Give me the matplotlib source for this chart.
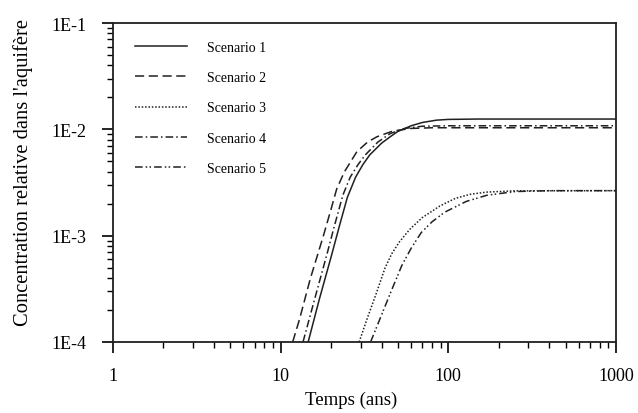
import matplotlib
matplotlib.use("Agg")
import matplotlib.pyplot as plt
from matplotlib.ticker import FixedLocator, LogLocator, NullFormatter

# values (time in years, relative concentration)
t1 = [14.6, 17, 20, 22.5, 25, 28, 31, 34, 40, 45, 50, 60, 70, 85, 100, 150, 1000]
c1 = [1.0e-4, 2.51e-4, 6.31e-4, 1.26e-3, 2.29e-3, 3.55e-3, 4.68e-3, 5.75e-3,
      7.41e-3, 8.51e-3, 9.55e-3, 1.08e-2, 1.16e-2, 1.22e-2, 1.24e-2, 1.25e-2, 1.25e-2]

t2 = [11.8, 13, 15, 18, 20, 21.6, 24, 28.5, 33, 37.5, 46.7, 60, 80, 1000]
c2 = [1.0e-4, 1.66e-4, 3.89e-4, 1.0e-3, 1.78e-3, 2.75e-3, 3.98e-3, 6.17e-3,
      7.59e-3, 8.51e-3, 9.64e-3, 1.02e-2, 1.035e-2, 1.035e-2]

t3 = [29.4, 33, 37, 42, 46, 51, 59, 70, 89, 110, 135, 170, 250, 1000]
c3 = [1.0e-4, 1.7e-4, 2.8e-4, 5.0e-4, 6.76e-4, 8.7e-4, 1.15e-3, 1.48e-3, 1.9e-3,
      2.24e-3, 2.45e-3, 2.57e-3, 2.64e-3, 2.65e-3]

t4 = [13.6, 16, 19, 21, 23.5, 26, 29, 32, 38, 45, 55, 70, 100, 1000]
c4 = [1.0e-4, 2.57e-4, 6.92e-4, 1.26e-3, 2.40e-3, 3.55e-3, 4.68e-3, 5.75e-3,
      7.59e-3, 9.12e-3, 1.02e-2, 1.07e-2, 1.08e-2, 1.08e-2]

t5 = [34.4, 40, 46, 52.7, 60, 69, 80, 95, 128, 170, 250, 400, 1000]
c5 = [1.0e-4, 1.8e-4, 3.1e-4, 5.2e-4, 7.6e-4, 1.07e-3, 1.35e-3, 1.66e-3,
      2.1e-3, 2.4e-3, 2.6e-3, 2.65e-3, 2.65e-3]

labels = ["Scenario 1", "Scenario 2", "Scenario 3", "Scenario 4", "Scenario 5"]
xticks = [1, 10, 100, 1000]
xticklabels = ["1", "10", "100", "1000"]
yticks = [1e-4, 1e-3, 1e-2, 1e-1]
yticklabels = ["1E-4", "1E-3", "1E-2", "1E-1"]

plt.rcParams['font.family'] = ['Liberation Serif', 'DejaVu Serif']

fig = plt.figure(figsize=(6.38, 4.14), dpi=100)
ax = fig.add_axes([0.177, 0.1715, 0.7885, 0.7705])

styles = ['-', (0, (6, 3)), (0, (1, 1.2)), (0, (5, 2, 1, 2)), (0, (5, 2, 1, 1.5, 1, 2))]
series = [(t1, c1), (t2, c2), (t3, c3), (t4, c4), (t5, c5)]
for (t, c), ls, lab in zip(series, styles, labels):
    ax.plot(t, c, color='#202020', lw=1.1, ls=ls, label=lab)

ax.set_xscale('log')
ax.set_yscale('log')
ax.set_xlim(1, 1000)
ax.set_ylim(1e-4, 1e-1)

ax.xaxis.set_major_locator(FixedLocator(xticks))
ax.set_xticklabels(xticklabels)
ax.yaxis.set_major_locator(FixedLocator(yticks))
ax.set_yticklabels(yticklabels)
ax.xaxis.set_minor_locator(LogLocator(base=10, subs=range(2, 10)))
ax.yaxis.set_minor_locator(LogLocator(base=10, subs=range(2, 10)))
ax.xaxis.set_minor_formatter(NullFormatter())
ax.yaxis.set_minor_formatter(NullFormatter())

ax.tick_params(which='major', direction='out', length=8, width=1.2,
               labelsize=13, pad=10)
ax.tick_params(which='minor', direction='out', length=4, width=1.0)
ax.tick_params(axis='y', which='major', pad=11)
for s in ax.spines.values():
    s.set_linewidth(1.3)
    s.set_color('#202020')

ax.set_xlabel('Temps (ans)', fontsize=13.5)
ax.xaxis.set_label_coords(0.473, -0.152)
ax.set_ylabel("Concentration relative dans l'aquifère", fontsize=14.8)
ax.yaxis.set_label_coords(-0.158, 0.536)

ax.legend(loc='upper left', frameon=False, fontsize=10, handlelength=3.7,
          handletextpad=1.5, labelspacing=1.25, borderaxespad=0.3,
          bbox_to_anchor=(0.025, 0.975))

fig.savefig('out.png', dpi=100)
